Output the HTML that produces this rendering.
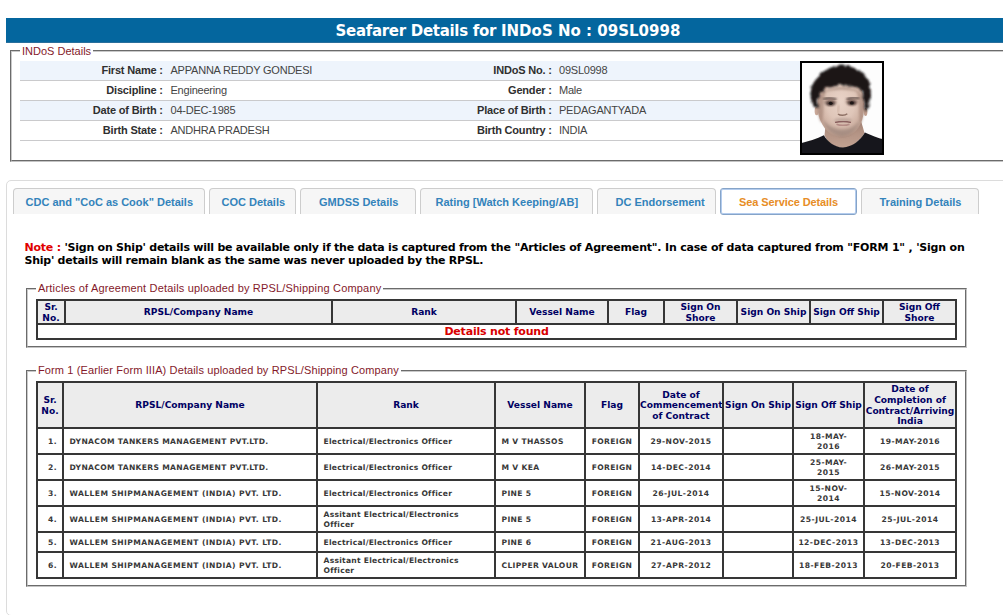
<!DOCTYPE html>
<html lang="en">
<head>
<meta charset="utf-8">
<title>Seafarer Details</title>
<style>
html,body{margin:0;padding:0;background:#fff;}
body{width:1003px;height:615px;overflow:hidden;position:relative;font-family:"Liberation Sans",Arial,sans-serif;font-size:11px;color:#333;}
.abs{position:absolute;box-sizing:border-box;}
.vd{font-family:"DejaVu Sans",Verdana,sans-serif;font-weight:bold;}
#bar{left:6px;top:18px;width:997px;height:25px;background:#04669e;border-bottom:1px solid #2a6f9c;}
#bar span{position:absolute;left:329.5px;top:3.5px;white-space:nowrap;color:#fff;font-size:15px;line-height:19px;letter-spacing:0.01px;}
#bar u{text-decoration:none;letter-spacing:-0.3px;}
.fs{border:1px solid;border-color:#6b6b6b #c4c4c4 #c4c4c4 #6b6b6b;}
.fs::after{content:"";position:absolute;left:0;top:0;right:0;bottom:0;border:1px solid;border-color:#c9c9c9 #6b6b6b #6b6b6b #c9c9c9;}
.lg{position:absolute;background:#fff;color:#84192a;white-space:nowrap;font-size:11px;line-height:13px;padding:0 2px;}
.row{left:20px;width:780px;height:20px;border-bottom:1px solid #cacacc;}
.row.odd{background:#eef4fc;}
.row b,.row span{position:absolute;top:3px;line-height:13px;white-space:nowrap;font-size:11px;}
.row b{color:#2f2f2f;letter-spacing:-0.18px;}
.row span{color:#444;letter-spacing:-0.22px;}
.row b.l1{right:637.2px;}
.row b.l2{right:248.2px;}
.row span.v1{left:150.5px;}
.row span.v2{left:539px;}
#tabs{left:6px;top:180px;width:1004px;height:436px;border:1px solid #dcdcdc;border-radius:5px;}
.tab{top:188px;height:26px;border:1px solid #cdcdcd;border-bottom:0;border-radius:4px 4px 0 0;background:#f6f6f6;color:#3383bb;font-weight:bold;font-size:11px;line-height:13px;padding-top:7px;white-space:nowrap;}
.tab.act{background:#fff;border:1px solid #86a4c8;color:#e78d26;height:27px;border-radius:3px;box-shadow:inset 0 0 0 1px #b3ccee;}
#note{left:24.5px;top:241px;width:960px;font-size:11px;line-height:13px;color:#000;white-space:nowrap;letter-spacing:-0.237px;}
#note u{text-decoration:none;letter-spacing:-0.195px;}
#note s{text-decoration:none;letter-spacing:-0.25px;}
#note i{font-style:normal;color:#e00000;}
table{position:absolute;border-collapse:separate;border-spacing:0;border:1px solid #363636;table-layout:fixed;}
th,td{border:1px solid #363636;padding:0;overflow:hidden;white-space:nowrap;}
th{background:#ececec;color:#000063;font-family:"DejaVu Sans",Verdana,sans-serif;font-weight:bold;font-size:9.1px;line-height:10.5px;text-align:center;padding-top:1px;}
th.q{line-height:10.75px;}
td{color:#383838;font-family:"DejaVu Sans",Verdana,sans-serif;font-weight:bold;font-size:7.6px;line-height:10.5px;text-align:center;padding-top:3px;letter-spacing:0.32px;}
td.t{padding-top:2px;}
td.d{letter-spacing:0.45px;}
td.r{letter-spacing:0.25px;}
td.w{letter-spacing:0.42px;}
td.l{text-align:left;padding-left:5.5px;}
</style>
</head>
<body>
<div id="bar" class="abs vd"><span><u>Seafarer Details for </u>INDoS No : 09SL0998</span></div>

<div class="abs fs" style="left:10px;top:50px;width:1000px;height:112px;"></div>
<div class="lg" style="left:20px;top:45px;">INDoS Details</div>
<div class="abs row odd" style="top:61px;"><b class="l1">First Name :</b><span class="v1">APPANNA REDDY GONDESI</span><b class="l2">INDoS No. :</b><span class="v2">09SL0998</span></div>
<div class="abs row" style="top:81px;"><b class="l1">Discipline :</b><span class="v1">Engineering</span><b class="l2">Gender :</b><span class="v2">Male</span></div>
<div class="abs row odd" style="top:101px;"><b class="l1">Date of Birth :</b><span class="v1">04-DEC-1985</span><b class="l2">Place of Birth :</b><span class="v2">PEDAGANTYADA</span></div>
<div class="abs row" style="top:121px;"><b class="l1">Birth State :</b><span class="v1">ANDHRA PRADESH</span><b class="l2">Birth Country :</b><span class="v2">INDIA</span></div>

<div class="abs" id="photo" style="left:800px;top:61px;width:84px;height:94px;border:2px solid #000;background:#fdfdfd;overflow:hidden;">
<svg width="80" height="90" viewBox="0 0 80 90" style="display:block">
<defs>
<filter id="fh" x="-20%" y="-20%" width="140%" height="140%"><feTurbulence type="fractalNoise" baseFrequency="0.22" numOctaves="2" seed="7" result="n"/><feDisplacementMap in="SourceGraphic" in2="n" scale="5" xChannelSelector="R" yChannelSelector="G"/><feGaussianBlur stdDeviation="1.0"/></filter>
<filter id="f1" x="-20%" y="-20%" width="140%" height="140%"><feGaussianBlur stdDeviation="0.9"/></filter>
<filter id="f2" x="-30%" y="-30%" width="160%" height="160%"><feGaussianBlur stdDeviation="1.8"/></filter>
<filter id="f3" x="-30%" y="-30%" width="160%" height="160%"><feGaussianBlur stdDeviation="0.6"/></filter>
<radialGradient id="sk" cx="0.5" cy="0.40" r="0.62"><stop offset="0" stop-color="#e9d3c7"/><stop offset="0.5" stop-color="#dfc6b9"/><stop offset="0.85" stop-color="#c9aa9b"/><stop offset="1" stop-color="#ab8b7b"/></radialGradient>
<linearGradient id="nk" x1="0" y1="0" x2="0" y2="1"><stop offset="0" stop-color="#9f8072"/><stop offset="0.5" stop-color="#b49485"/><stop offset="1" stop-color="#c2a292"/></linearGradient>
</defs>
<rect width="80" height="90" fill="#fdfdfd"/>
<!-- neck -->
<path d="M24,58 L22.5,72.5 C27,82 35,85 41,85 C49,85 57,79 62.5,70 L58.5,56 Z" fill="url(#nk)" filter="url(#f3)"/>
<!-- shirt -->
<path d="M-2,80.5 C6,78 15,76 21.9,72.2 C25,78 32,84 41,84.6 C50,84 58,78 62.9,69.6 C69,72.5 76,75 82,76.6 L82,92 L-2,92 Z" fill="#17161b" filter="url(#f3)"/>
<!-- ears -->
<ellipse cx="14.6" cy="48" rx="2" ry="4.2" fill="#c9a898" filter="url(#f3)"/>
<ellipse cx="63.6" cy="49" rx="1.8" ry="4" fill="#c2a090" filter="url(#f3)"/>
<!-- face -->
<path d="M15.4,38 C15,44 15.8,52 18.8,58.5 C20.8,63 24,67.5 28,70.5 C31.8,73.3 36,74.8 40.2,74.8 C44,74.8 47,73.8 49.8,72 C53,69.5 56,66 58.3,61.5 C61,56 62.5,49 62.4,40 C62,22 52,14 39.5,14 C27,14 16,22 15.4,38 Z" fill="url(#sk)" filter="url(#f3)"/>
<!-- side shading -->
<path d="M15.4,38 C15,46 16,54 19,60 C21,57 21.5,50 21.5,44 C21.5,38 22,33 24,28 C19,30 16,33 15.4,38 Z" fill="#9c7d6f" opacity="0.55" filter="url(#f1)"/>
<path d="M62.3,40 C62.5,48 61.5,55 59,61 C57,57 56.8,50 57,44 C57,38 56.5,33 54.5,28 C59,30 62,34 62.3,40 Z" fill="#9c7d6f" opacity="0.5" filter="url(#f1)"/>
<path d="M20,30 C26,25.5 34,24.5 39.5,24 C46,24.5 54,25.5 59,30 C54,27.5 46,27 39.5,26.5 C33,27 25,27.5 20,30 Z" fill="#8f7264" opacity="0.5" filter="url(#f1)"/>
<!-- beard shadow -->
<path d="M20,55 C22,64 29,72.5 40,73.2 C50,72.5 57,64 59.5,54 C56,62 49,66.5 40.5,66.5 C32,66.5 24,62 20,55 Z" fill="#85726b" opacity="0.5" filter="url(#f2)"/>
<ellipse cx="41" cy="57" rx="9" ry="2.2" fill="#8d7770" opacity="0.35" filter="url(#f1)"/>
<!-- eye sockets -->
<ellipse cx="28.3" cy="39.3" rx="6.5" ry="3.6" fill="#9b7f74" opacity="0.7" filter="url(#f1)"/>
<ellipse cx="50" cy="38.8" rx="6.5" ry="3.6" fill="#9b7f74" opacity="0.7" filter="url(#f1)"/>
<!-- hair -->
<path d="M12.4,43 C9.5,41 8.6,38 8.8,35 C8.5,31 8.6,28 9.5,25 C10.5,20.5 13,17 16.1,14.6 C18,11 21,8.5 25,6.6 C29,4 34,2.8 39.5,2.6 C45,2.6 50,3.8 54.1,5.9 C58,7.5 61,10 62.9,13.2 C66,16 67.5,19.5 68,23.4 C69,27 69,30.5 68.7,33.6 C68.5,37 68,40 66.5,42.5 C66,45.5 65,47.5 63.3,49.5 C63.2,46 62.8,42.5 62.2,39.5 C62,36 61.6,33 60.7,30.7 C59,27.5 57,25.5 54.1,24.1 C49.5,22.6 45,22.8 39.5,21.8 C34,23 29.5,23.8 24.9,25.5 C21.5,26.8 19,28.8 17.5,31.4 C16.2,34 15.6,37 15.4,39.5 C15.3,42 15.6,44 16.1,46 C14.5,45.5 13.3,44.5 12.4,43 Z" fill="#1c1819" filter="url(#fh)"/>
<!-- eyebrows -->
<path d="M21.5,36.4 C25,34.7 30,34.8 34.5,36.6" stroke="#3a2a27" stroke-width="2.0" fill="none" opacity="0.8" filter="url(#f1)"/>
<path d="M44.6,36.4 C48.5,34.6 53.5,34.2 57.2,35.4" stroke="#3a2a27" stroke-width="2.0" fill="none" opacity="0.8" filter="url(#f1)"/>
<!-- eyes -->
<ellipse cx="28.5" cy="40.2" rx="4.2" ry="2.3" fill="#3a2928" opacity="0.9" filter="url(#f1)"/><ellipse cx="28.7" cy="40.3" rx="1.9" ry="1.6" fill="#1d1414" filter="url(#f3)"/>
<ellipse cx="49.8" cy="39.8" rx="4.2" ry="2.3" fill="#3a2928" opacity="0.9" filter="url(#f1)"/><ellipse cx="49.9" cy="39.9" rx="1.9" ry="1.6" fill="#1d1414" filter="url(#f3)"/>
<!-- nose -->
<path d="M36,51 C38,52.8 43,52.8 45.3,50.8" stroke="#8f7165" stroke-width="1.5" fill="none" filter="url(#f3)"/>
<path d="M36.8,42 C36.5,46 35.8,48 35.5,50" stroke="#c8a999" stroke-width="1.3" fill="none" filter="url(#f1)"/>
<!-- mouth -->
<path d="M33,59.6 C37,58.6 45,58.6 49,59.4" stroke="#8a615f" stroke-width="1.5" fill="none" filter="url(#f3)"/>
<path d="M34.5,61.3 C38,62.8 44,62.8 47.5,61.2" stroke="#b48c86" stroke-width="1.7" fill="none" filter="url(#f3)"/>
</svg>
</div>

<div id="tabs" class="abs"></div>
<div class="abs tab" style="left:13px;width:192px;padding-left:11.5px;">CDC and "CoC as Cook" Details</div>
<div class="abs tab" style="left:209px;width:87px;padding-left:11.5px;">COC Details</div>
<div class="abs tab" style="left:300px;width:116px;padding-left:18px;">GMDSS Details</div>
<div class="abs tab" style="left:420px;width:173px;padding-left:14.5px;">Rating [Watch Keeping/AB]</div>
<div class="abs tab" style="left:597px;width:119px;padding-left:17.5px;">DC Endorsement</div>
<div class="abs tab act" style="left:720px;width:137px;padding-left:18px;letter-spacing:-0.1px;">Sea Service Details</div>
<div class="abs tab" style="left:861px;width:118px;padding-left:17.5px;">Training Details</div>

<div id="note" class="abs vd"><i>Note :</i> 'Sign on Ship' details will be available only if the data is captured from <u>the "Articles of Agreement". In case of data captured from "FORM 1" , 'Sign on</u><br><s>Ship' details will remain blank as the same was never uploaded by the RPSL.</s></div>

<div class="abs fs" style="left:26px;top:288px;width:941px;height:60px;"></div>
<div class="lg" style="left:36px;top:282px;letter-spacing:0.18px;">Articles of Agreement Details uploaded by RPSL/Shipping Company</div>
<table style="left:36px;top:299px;width:921px;">
<colgroup><col style="width:28px"><col style="width:267px"><col style="width:184px"><col style="width:92px"><col style="width:56px"><col style="width:73px"><col style="width:73px"><col style="width:73px"><col style="width:73px"></colgroup>
<tr style="height:24px"><th>Sr.<br>No.</th><th>RPSL/Company Name</th><th>Rank</th><th>Vessel Name</th><th>Flag</th><th>Sign On<br>Shore</th><th>Sign On Ship</th><th>Sign Off Ship</th><th>Sign Off<br>Shore</th></tr>
<tr style="height:15px"><td colspan="9" style="color:#d80000;font-size:11px;line-height:12px;letter-spacing:-0.2px;padding-top:1px;">Details not found</td></tr>
</table>

<div class="abs fs" style="left:26px;top:370px;width:941px;height:217px;"></div>
<div class="lg" style="left:36px;top:364px;letter-spacing:0.12px;">Form 1 (Earlier Form IIIA) Details uploaded by RPSL/Shipping Company</div>
<table style="left:36px;top:381px;width:921px;">
<colgroup><col style="width:26px"><col style="width:254px"><col style="width:178px"><col style="width:90px"><col style="width:54px"><col style="width:84px"><col style="width:70px"><col style="width:71px"><col style="width:92px"></colgroup>
<tr style="height:46px"><th>Sr.<br>No.</th><th>RPSL/Company Name</th><th>Rank</th><th>Vessel Name</th><th>Flag</th><th>Date of<br>Commencement<br>of Contract</th><th>Sign On Ship</th><th>Sign Off Ship</th><th class="q">Date of<br>Completion of<br>Contract/Arriving<br>India</th></tr>
<tr style="height:26px"><td style="padding-left:5px">1.</td><td class="l">DYNACOM TANKERS MANAGEMENT PVT.LTD.</td><td class="l r">Electrical/Electronics Officer</td><td class="l">M V THASSOS</td><td>FOREIGN</td><td class="d">29-NOV-2015</td><td></td><td class="d t">18-MAY-<br>2016</td><td class="d">19-MAY-2016</td></tr>
<tr style="height:26px"><td style="padding-left:5px">2.</td><td class="l">DYNACOM TANKERS MANAGEMENT PVT.LTD.</td><td class="l r">Electrical/Electronics Officer</td><td class="l">M V KEA</td><td>FOREIGN</td><td class="d">14-DEC-2014</td><td></td><td class="d t">25-MAY-<br>2015</td><td class="d">26-MAY-2015</td></tr>
<tr style="height:26px"><td style="padding-left:5px">3.</td><td class="l w">WALLEM SHIPMANAGEMENT (INDIA) PVT. LTD.</td><td class="l r">Electrical/Electronics Officer</td><td class="l">PINE 5</td><td>FOREIGN</td><td class="d">26-JUL-2014</td><td></td><td class="d t">15-NOV-<br>2014</td><td class="d">15-NOV-2014</td></tr>
<tr style="height:26px"><td style="padding-left:5px">4.</td><td class="l w">WALLEM SHIPMANAGEMENT (INDIA) PVT. LTD.</td><td class="l r t">Assitant Electrical/Electronics<br>Officer</td><td class="l">PINE 5</td><td>FOREIGN</td><td class="d">13-APR-2014</td><td></td><td class="d">25-JUL-2014</td><td class="d">25-JUL-2014</td></tr>
<tr style="height:20px"><td style="padding-left:5px">5.</td><td class="l w">WALLEM SHIPMANAGEMENT (INDIA) PVT. LTD.</td><td class="l r">Electrical/Electronics Officer</td><td class="l">PINE 6</td><td>FOREIGN</td><td class="d">21-AUG-2013</td><td></td><td class="d">12-DEC-2013</td><td class="d">13-DEC-2013</td></tr>
<tr style="height:26px"><td style="padding-left:5px">6.</td><td class="l w">WALLEM SHIPMANAGEMENT (INDIA) PVT. LTD.</td><td class="l r t">Assitant Electrical/Electronics<br>Officer</td><td class="l">CLIPPER VALOUR</td><td>FOREIGN</td><td class="d">27-APR-2012</td><td></td><td class="d">18-FEB-2013</td><td class="d">20-FEB-2013</td></tr>
</table>
</body>
</html>
